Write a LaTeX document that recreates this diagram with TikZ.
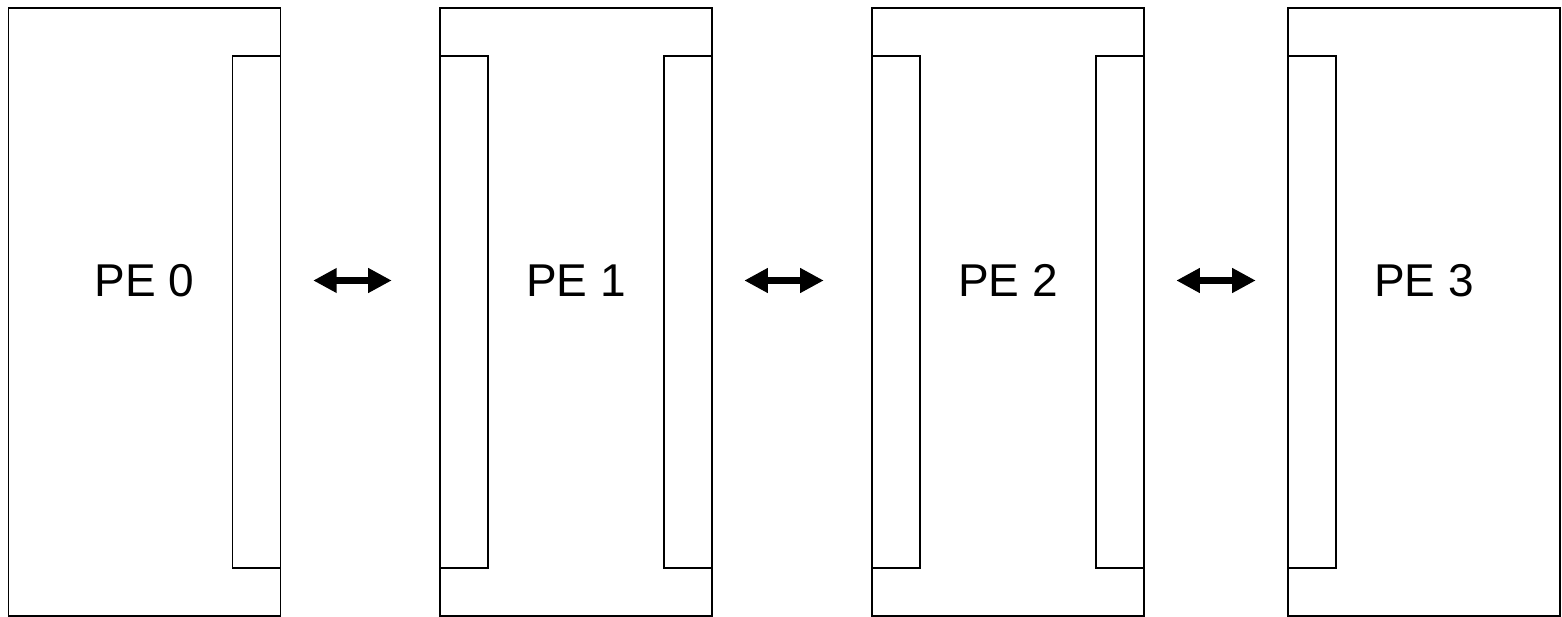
\documentclass[tikz,border=0pt]{standalone}
\usepackage{fontspec}
\setmainfont{Liberation Sans}
\usetikzlibrary{arrows.meta}
\begin{document}
\begin{tikzpicture}[x=1pt,y=-1pt,
  pe/.style={draw,line width=1.3pt,minimum width=272pt,minimum height=608pt,inner sep=0pt,outer sep=0pt,anchor=north west},
  strip/.style={draw,line width=1.3pt,minimum width=48pt,minimum height=512pt,inner sep=0pt,outer sep=0pt},
  lbl/.style={font=\fontsize{46}{50}\selectfont,anchor=base,inner sep=0pt},
  link/.style={line width=6.6pt,{Triangle[length=23.5pt,width=23.5pt]}-{Triangle[length=23.5pt,width=23.5pt]}}]
\useasboundingbox (0,0) rectangle (1562,617);
\node[pe] (pe0) at (8.5,8) {};
\node[pe] (pe1) at (440,8) {};
\node[pe] (pe2) at (872,8) {};
\node[pe] (pe3) at (1288,8) {};
\node[strip,anchor=north east] (s0r) at ([yshift=-48pt]pe0.north east) {};
\node[strip,anchor=north west] (s1l) at ([yshift=-48pt]pe1.north west) {};
\node[strip,anchor=north east] (s1r) at ([yshift=-48pt]pe1.north east) {};
\node[strip,anchor=north west] (s2l) at ([yshift=-48pt]pe2.north west) {};
\node[strip,anchor=north east] (s2r) at ([yshift=-48pt]pe2.north east) {};
\node[strip,anchor=north west] (s3l) at ([yshift=-48pt]pe3.north west) {};
\node[lbl] (t0) at ([yshift=15pt]pe0.center) {PE 0};
\node[lbl] (t1) at ([yshift=15pt]pe1.center) {PE 1};
\node[lbl] (t2) at ([yshift=15pt]pe2.center) {PE 2};
\node[lbl] (t3) at ([yshift=15pt]pe3.center) {PE 3};
\draw[link] ([shift={(32.7,-31.5)}]pe0.east) -- ([shift={(-48.3,-31.5)}]pe1.west);
\draw[link] ([shift={(32.3,-31.5)}]pe1.east) -- ([shift={(-48.3,-31.5)}]pe2.west);
\draw[link] ([shift={(32.3,-31.5)}]pe2.east) -- ([shift={(-32.3,-31.5)}]pe3.west);
\end{tikzpicture}
\end{document}
